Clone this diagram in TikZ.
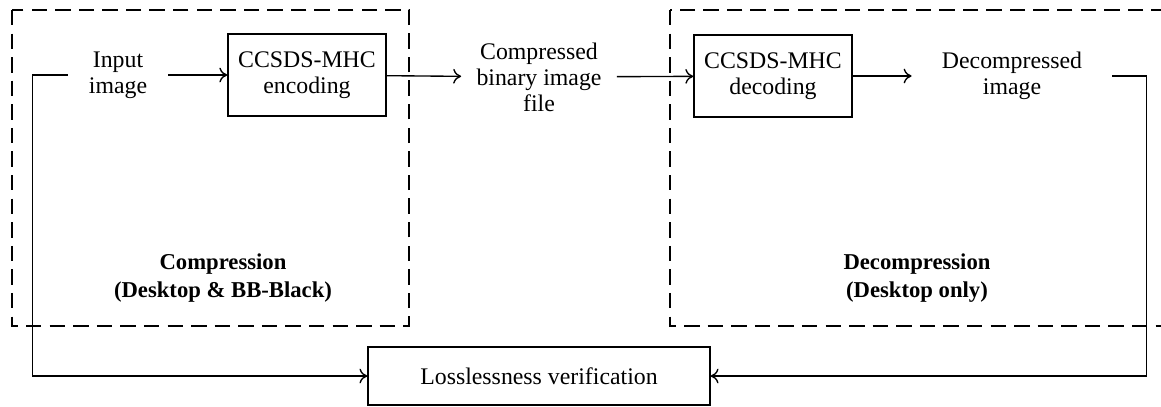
\documentclass[tikz,border=0pt]{standalone}
\usepackage{fontspec}
\setmainfont{Liberation Serif}
\usetikzlibrary{calc,arrows.meta}

\tikzset{
	blockbox/.style={draw, line width=0.6pt, minimum width=2.45cm, minimum height=1.27cm, inner sep=0pt, align=center},
	plaintext/.style={align=center, inner sep=0pt, minimum height=0.9cm},
	groupbox/.style={line width=0.9pt, dash pattern=on 6.8pt off 3.6pt},
	flow/.style={-{To[length=3.5pt, width=6.5pt]}, line width=0.6pt}
}

\begin{document}
\begin{tikzpicture}[x=0.0155cm, y=-0.0155cm, font=\fontsize{10.5}{11.5}\selectfont]
			%%%%% START %%%%%
			\useasboundingbox (0, 0) rectangle (1161, 406);
			
			\draw[groupbox] (12, 10) rectangle (409, 326);
			\draw[groupbox] (670, 10) rectangle (1180, 326);
			
			\node[plaintext, minimum width=1.55cm] (inp) at (118, 75) {Input\\image};
			\node[blockbox] (enc) at (307, 75) {CCSDS-MHC\\encoding};
			\node[plaintext, minimum width=2.4cm] (cmp) at (539, 77) {Compressed\\binary image\\file};
			\node[blockbox] (dec) at (773, 76) {CCSDS-MHC\\decoding};
			\node[plaintext, minimum width=3.1cm] (dcp) at (1012, 76) {Decompressed\\image};
			\node[draw, line width=0.6pt, minimum width=5.3cm, minimum height=0.9cm, inner sep=0pt] (ver) at (539, 376) {Losslessness verification};
			
			\node[align=center, font=\bfseries] (lcomp) at (223, 278) {Compression\\(Desktop \& BB-Black)};
			\node[align=center, font=\bfseries] (ldec) at (917, 278) {Decompression\\(Desktop only)};
			
			\draw[flow] (inp) -- (enc);
			\draw[flow] (enc) -- (cmp);
			\draw[flow] (cmp) -- (dec);
			\draw[flow] (dec) -- (dcp);
			\draw[flow] (inp.west) -- ++(-35, 0) |- (ver.west);
			\draw[flow] (dcp.east) -- ++(34, 0) |- (ver.east);
			
			%%%%% END %%%%%
\end{tikzpicture}
\end{document}
